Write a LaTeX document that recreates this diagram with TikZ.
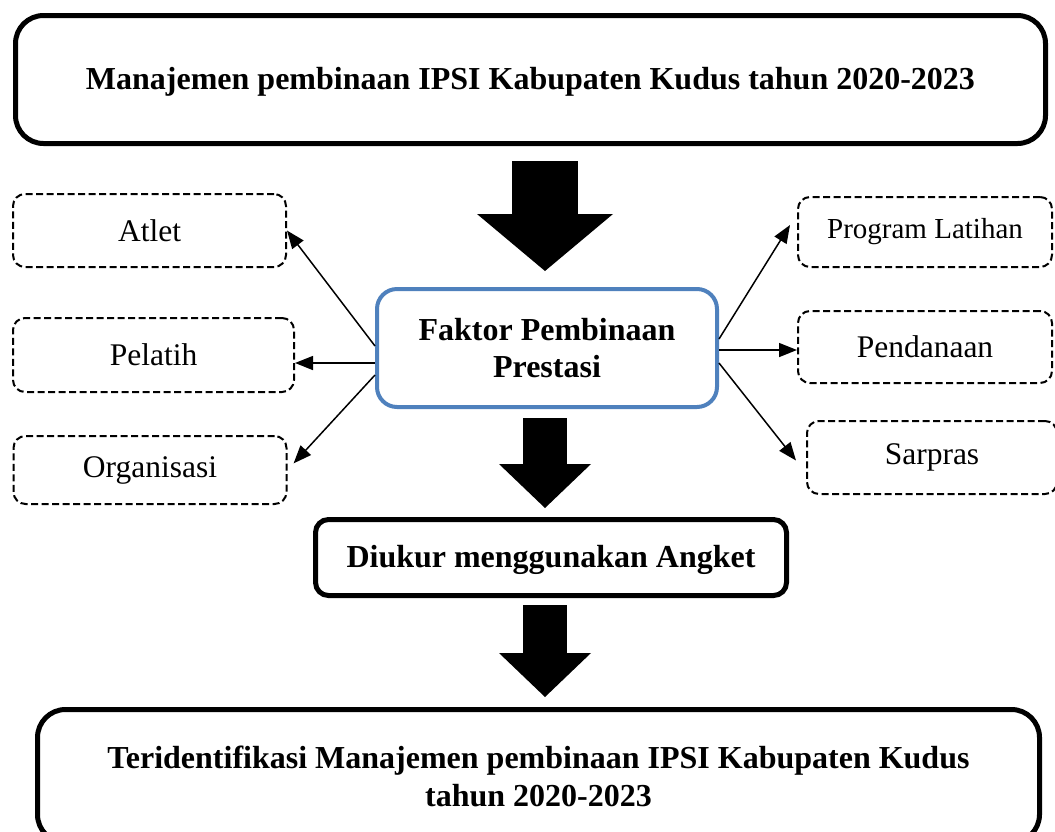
\documentclass[tikz,border=0pt]{standalone}
\usepackage{fontspec}
\setmainfont{Liberation Serif}
\usetikzlibrary{arrows.meta,positioning}
\definecolor{faktorblue}{RGB}{79,129,189}
\tikzset{
  mainbox/.style={draw, rectangle, rounded corners=28pt, line width=5pt, inner sep=0pt, align=center, font=\fontsize{32}{38}\selectfont\bfseries},
  midbox/.style={draw, rectangle, rounded corners=13pt, line width=5pt, inner sep=0pt, align=center, font=\fontsize{32}{38}\selectfont\bfseries},
  corebox/.style={draw=faktorblue, rectangle, rounded corners=20pt, line width=4pt, inner sep=0pt, align=center, font=\fontsize{32}{37}\selectfont\bfseries},
  sidebox/.style={draw, rectangle, dash pattern=on 7pt off 3.5pt, rounded corners=12pt, line width=2pt, inner sep=0pt, align=center, font=\fontsize{31.5}{36}\selectfont},
  arr/.style={-{Triangle[length=18pt 0 0, width=14pt 0 0]}, line width=1.5pt},
  bigarr/.style={line width=66pt, -{Triangle[length=57pt 0 0, width=136pt 0 0, line width=0pt 0 0]}},
  smallarr/.style={line width=44pt, -{Triangle[length=44pt 0 0, width=92pt 0 0, line width=0pt 0 0]}},
}
\begin{document}
\begin{tikzpicture}[x=1pt, y=-1pt]
\useasboundingbox (0,0) rectangle (1055,831);

% main column
\node[mainbox, text depth=2pt, minimum width=1030pt, minimum height=128pt] (top) at (530.5,79.5) {Manajemen pembinaan IPSI Kabupaten Kudus tahun 2020-2023};
\node[corebox, minimum width=340pt, minimum height=118pt] (faktor) at (547,348) {Faktor Pembinaan\\Prestasi};
\node[midbox, text depth=2pt, minimum width=471pt, minimum height=76pt] (ukur) at (551,557.5) {Diukur menggunakan Angket};
\node[mainbox, minimum width=1002pt, minimum height=133pt] (hasil) at (538.5,776) {Teridentifikasi Manajemen pembinaan IPSI Kabupaten Kudus\\tahun 2020-2023};

% faktor kiri
\node[sidebox, minimum width=273pt, minimum height=73pt] (atlet) at (149.5,230.5) {Atlet};
\node[sidebox, minimum width=281pt, minimum height=74pt] (pelatih) at (153.5,355) {Pelatih};
\node[sidebox, minimum width=273pt, minimum height=68pt] (organisasi) at (150,470) {Organisasi};

% faktor kanan
\node[sidebox, minimum width=254pt, minimum height=70pt, font=\fontsize{29}{34}\selectfont] (program) at (925,232) {Program Latihan};
\node[sidebox, minimum width=254pt, minimum height=72pt] (pendanaan) at (925,347) {Pendanaan};
\node[sidebox, minimum width=250pt, minimum height=73pt] (sarpras) at (932,457.5) {Sarpras};

% panah besar
\draw[bigarr, shorten <=15pt, shorten >=16pt] ([xshift=-2pt]faktor.north |- top.south) -- ([xshift=-2pt]faktor.north);
\draw[smallarr, shorten <=9pt, shorten >=9pt] ([xshift=-2pt]faktor.south) -- ([xshift=-2pt]faktor.south |- ukur.north);
\draw[smallarr, shorten <=7pt, shorten >=10pt] ([xshift=-2pt]faktor.south |- ukur.south) -- ([xshift=-2pt]faktor.south |- hasil.north);

% panah faktor
\draw[arr] ([yshift=2pt]faktor.west) -- (atlet.east);
\draw[arr] ([yshift=-15pt]faktor.west) -- ([yshift=-15pt]faktor.west -| pelatih.east);
\draw[arr, shorten >=9pt] ([yshift=-27pt]faktor.west) -- (organisasi.east);
\draw[arr] ([yshift=9pt]faktor.east) -- ([xshift=-7pt,yshift=7pt]program.west);
\draw[arr] ([yshift=-2pt]faktor.east) -- ([yshift=-2pt]faktor.east -| pendanaan.west);
\draw[arr] ([yshift=-15pt]faktor.east) -- ([xshift=-10pt,yshift=-3pt]sarpras.west);

\end{tikzpicture}
\end{document}
